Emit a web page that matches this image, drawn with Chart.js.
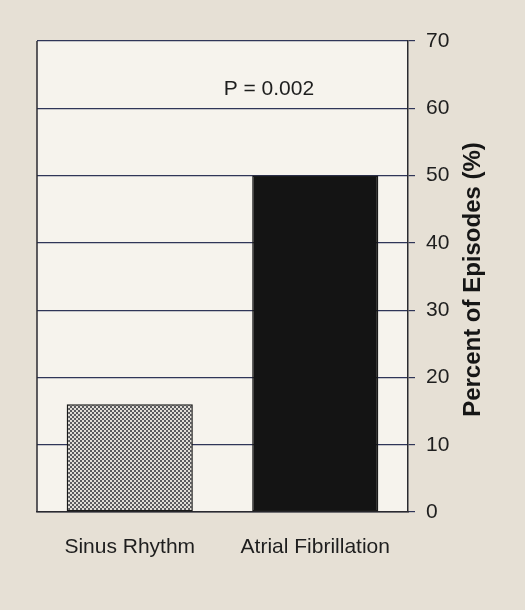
<!DOCTYPE html>
<html>
<head>
<meta charset="utf-8">
<script src="https://cdn.jsdelivr.net/npm/chart.js@4"></script>
<style>
  html, body { margin: 0; padding: 0; background: #e6e0d5; }
  #wrap { width: 525px; height: 610px; }
</style>
</head>
<body>
<div id="wrap"><canvas id="episodeChart" width="525" height="610"></canvas></div>
<script>
const categories = ['Sinus Rhythm', 'Atrial Fibrillation'];
const episodePercent = [16, 50];
const yTicks = [0, 10, 20, 30, 40, 50, 60, 70];
const pValueLabel = 'P = 0.002';
const yTitle = 'Percent of Episodes (%)';

const FONT = '"Liberation Sans", Arial, sans-serif';

// checker pattern for the sinus rhythm bar (scan looks like a halftone)
function checkerPattern() {
  const c = document.createElement('canvas');
  c.width = 4;
  c.height = 4;
  const g = c.getContext('2d');
  g.fillStyle = '#e0ddd6';
  g.fillRect(0, 0, 4, 4);
  g.fillStyle = '#5a5a5e';
  g.fillRect(0, 0, 2, 2);
  g.fillRect(2, 2, 2, 2);
  return g.createPattern(c, 'repeat');
}

// paper colour inside the plot box, left border, p value and the axis title
const plotBox = {
  id: 'plotBox',
  beforeDraw(chart) {
    const { ctx, chartArea } = chart;
    ctx.save();
    ctx.fillStyle = '#f6f3ed';
    ctx.fillRect(chartArea.left, chartArea.top, chartArea.right - chartArea.left, chartArea.bottom - chartArea.top);
    ctx.restore();
  },
  afterDraw(chart) {
    const { ctx, chartArea, scales } = chart;
    ctx.save();
    ctx.strokeStyle = '#2a2a30';
    ctx.lineWidth = 1.5;
    ctx.beginPath();
    ctx.moveTo(chartArea.left, chartArea.top);
    ctx.lineTo(chartArea.left, chartArea.bottom);
    ctx.stroke();

    // p value sits between the two bars, near the top
    ctx.fillStyle = '#1e1e1e';
    ctx.font = '21px ' + FONT;
    ctx.textAlign = 'center';
    ctx.textBaseline = 'middle';
    ctx.fillText(pValueLabel, scales.x.getPixelForValue(0.75), scales.y.getPixelForValue(62.8));

    // axis title reads bottom to top on the right side
    ctx.translate(scales.y.right - 52, (chartArea.top + chartArea.bottom) / 2 + 3);
    ctx.rotate(-Math.PI / 2);
    ctx.fillStyle = '#161616';
    ctx.font = 'bold 24px ' + FONT;
    ctx.fillText(yTitle, 0, 0);
    ctx.restore();
  }
};

const ctx = document.getElementById('episodeChart').getContext('2d');

new Chart(ctx, {
  type: 'bar',
  data: {
    labels: categories,
    datasets: [{
      data: episodePercent,
      backgroundColor: [checkerPattern(), '#141414'],
      borderColor: '#1a1a1a',
      borderWidth: 1.5,
      borderSkipped: false,
      barPercentage: 0.68,
      categoryPercentage: 1.0
    }]
  },
  options: {
    responsive: false,
    animation: false,
    layout: { padding: { top: 41, left: 37, right: 0, bottom: 0 } },
    plugins: {
      legend: { display: false },
      tooltip: { enabled: false }
    },
    scales: {
      x: {
        grid: { display: false },
        border: { display: true, color: '#2a2a30', width: 1.5 },
        ticks: {
          color: '#1e1e1e',
          padding: 15,
          font: { family: FONT, size: 21 }
        },
        afterFit(scale) { scale.height = 98; }
      },
      y: {
        position: 'right',
        min: 0,
        max: 70,
        z: 1,
        afterBuildTicks(scale) { scale.ticks = yTicks.map(v => ({ value: v })); },
        grid: {
          color: '#2f3558',
          lineWidth: 1.2,
          tickLength: 7,
          drawOnChartArea: true
        },
        border: { display: true, color: '#2a2a30', width: 1.5 },
        ticks: {
          color: '#1e1e1e',
          padding: 11,
          font: { family: FONT, size: 21 }
        },
        afterFit(scale) { scale.width = 117; }
      }
    }
  },
  plugins: [plotBox]
});
</script>
</body>
</html>
